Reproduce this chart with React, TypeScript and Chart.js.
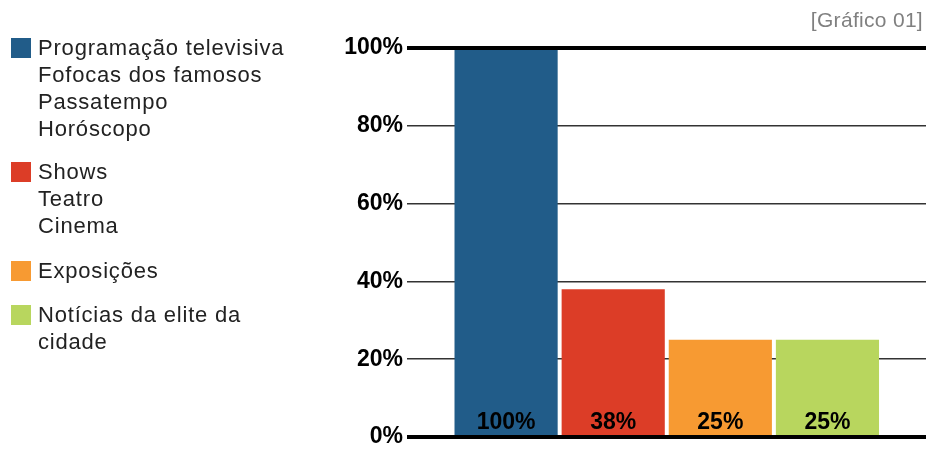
import React, { useEffect, useRef } from "react";
import { Chart, registerables } from "chart.js";

Chart.register(...registerables);

const categories = [
  "Programação televisiva / Fofocas dos famosos / Passatempo / Horóscopo",
  "Shows / Teatro / Cinema",
  "Exposições",
  "Notícias da elite da cidade",
];
const legendLines = [
  ["Programação televisiva", "Fofocas dos famosos", "Passatempo", "Horóscopo"],
  ["Shows", "Teatro", "Cinema"],
  ["Exposições"],
  ["Notícias da elite da", "cidade"],
];
const values = [100, 38, 25, 25];
const colors = ["#215c89", "#dc3d27", "#f79a32", "#b8d65e"];
const yTickValues = [0, 20, 40, 60, 80, 100];
const chartTitle = "[Gráfico 01]";

export default function App() {
  const canvasRef = useRef<HTMLCanvasElement | null>(null);

  useEffect(() => {
    const canvas = canvasRef.current;
    if (!canvas) return;

    const edgeLines = {
      id: "edgeLines",
      afterDatasetsDraw(chart: any) {
        const { ctx, chartArea, scales } = chart;
        const y = scales.y;
        ctx.save();
        ctx.strokeStyle = "#000";
        ctx.lineWidth = 4;
        [yTickValues[0], yTickValues[yTickValues.length - 1]].forEach((v) => {
          const py = y.getPixelForValue(v);
          ctx.beginPath();
          ctx.moveTo(chartArea.left, py);
          ctx.lineTo(chartArea.right, py);
          ctx.stroke();
        });
        ctx.restore();
      },
    };

    const barLabels = {
      id: "barLabels",
      afterDatasetsDraw(chart: any) {
        const { ctx } = chart;
        const meta = chart.getDatasetMeta(0);
        ctx.save();
        ctx.fillStyle = "#000";
        ctx.font = "bold 23px 'Liberation Sans', Arial, sans-serif";
        ctx.textAlign = "center";
        ctx.textBaseline = "alphabetic";
        meta.data.forEach((el: any, i: number) => {
          ctx.fillText(values[i] + "%", el.x, el.base - 7);
        });
        ctx.restore();
      },
    };

    const chart = new Chart(canvas, {
      type: "bar",
      data: {
        labels: categories,
        datasets: [
          {
            label: "Gráfico 01",
            data: values.map((v, i) => ({ x: i, y: v })),
            backgroundColor: colors,
            borderWidth: 0,
            categoryPercentage: 1,
            barPercentage: 0.963,
          },
        ],
      },
      options: {
        animation: false,
        responsive: false,
        maintainAspectRatio: false,
        layout: { padding: { left: 330, right: 5, top: 48, bottom: 15 } },
        plugins: {
          legend: { display: false },
          tooltip: { enabled: false },
          title: { display: false },
        },
        scales: {
          x: {
            type: "linear",
            min: -0.925,
            max: 3.92,
            offset: false,
            display: false,
            afterBuildTicks: (scale: any) => {
              scale.ticks = values.map((_, i) => ({ value: i }));
            },
          },
          y: {
            min: 0,
            max: 100,
            afterFit: (scale: any) => {
              scale.width = 77;
            },
            ticks: {
              stepSize: 20,
              padding: 4,
              color: "#000",
              font: { family: "'Liberation Sans', Arial, sans-serif", size: 23, weight: "bold", lineHeight: 0.9 },
              callback: (v: any) => v + "%",
            },
            grid: {
              drawTicks: false,
              color: "#333",
              lineWidth: 1.5,
            },
            border: { display: false },
          },
        },
      },
      plugins: [edgeLines, barLabels],
    });

    return () => chart.destroy();
  }, []);

  const legendFont = "'Liberation Sans', Arial, sans-serif";
  const groupGaps = [16, 18, 17, 0];

  return (
    <div style={{ position: "absolute", left: 0, top: 0, width: 931, height: 452, background: "#fff" }}>
      <canvas ref={canvasRef} width={931} height={452} style={{ position: "absolute", left: 0, top: 0, width: 931, height: 452 }} />
      <div
        style={{
          position: "absolute",
          right: 8,
          top: 9,
          fontFamily: legendFont,
          fontSize: 21,
          lineHeight: "21px",
          color: "#808080",
          letterSpacing: "0.3px",
        }}
      >
        {chartTitle}
      </div>
      <div style={{ position: "absolute", left: 11, top: 34, fontFamily: legendFont, fontSize: 22, color: "#222", letterSpacing: "0.8px" }}>
        {legendLines.map((lines, i) => (
          <div key={i} style={{ position: "relative", paddingLeft: 27, marginBottom: groupGaps[i], lineHeight: "27px" }}>
            <span
              style={{
                position: "absolute",
                left: 0,
                top: 4,
                width: 20,
                height: 20,
                background: colors[i],
              }}
            />
            {lines.map((t, j) => (
              <div key={j}>{t}</div>
            ))}
          </div>
        ))}
      </div>
    </div>
  );
}
